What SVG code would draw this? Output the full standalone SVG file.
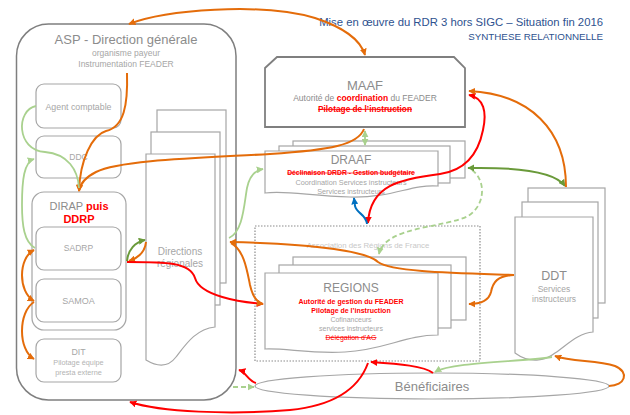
<svg xmlns="http://www.w3.org/2000/svg" width="630" height="415" viewBox="0 0 630 415">
<defs>
<style>
text{font-family:"Liberation Sans",Arial,sans-serif;fill:#8c8c8c;text-anchor:middle}
.box{fill:#fff;stroke:#a6a6a6;stroke-width:1.2}
.lt{fill:#a6a6a6}
.red{fill:#ff0000}
.b{font-weight:bold}
.st{text-decoration:line-through}
.c{fill:none;stroke-width:2}
.o{stroke:#e46c0a}
.r{stroke:#ff0000}
.lg{stroke:#a9d18e;stroke-width:1.8}
.dg{stroke:#6a9a3a}
.bl{stroke:#0070c0}
.d{stroke-dasharray:5 3}
</style>
<marker id="mo" viewBox="0 0 10 10" refX="9" refY="5" markerWidth="7" markerHeight="7" markerUnits="userSpaceOnUse" orient="auto-start-reverse"><path d="M0,0L10,5L0,10z" fill="#e46c0a"/></marker>
<marker id="mr" viewBox="0 0 10 10" refX="9" refY="5" markerWidth="7" markerHeight="7" markerUnits="userSpaceOnUse" orient="auto-start-reverse"><path d="M0,0L10,5L0,10z" fill="#ff0000"/></marker>
<marker id="mlg" viewBox="0 0 10 10" refX="9" refY="5" markerWidth="7" markerHeight="7" markerUnits="userSpaceOnUse" orient="auto-start-reverse"><path d="M0,0L10,5L0,10z" fill="#a9d18e"/></marker>
<marker id="mdg" viewBox="0 0 10 10" refX="9" refY="5" markerWidth="7" markerHeight="7" markerUnits="userSpaceOnUse" orient="auto-start-reverse"><path d="M0,0L10,5L0,10z" fill="#6a9a3a"/></marker>
<marker id="mb" viewBox="0 0 10 10" refX="9" refY="5" markerWidth="7" markerHeight="7" markerUnits="userSpaceOnUse" orient="auto-start-reverse"><path d="M0,0L10,5L0,10z" fill="#0070c0"/></marker>
</defs>
<rect width="630" height="415" fill="#fff"/>

<g id="title">
<text x="603" y="26" style="text-anchor:end;fill:#2e528f;font-size:11.3px">Mise en œuvre du RDR 3 hors SIGC – Situation fin 2016</text>
<text x="603" y="40" style="text-anchor:end;fill:#2e528f;font-size:9.8px">SYNTHESE RELATIONNELLE</text>
</g>

<g id="asp">
<rect x="16.5" y="24" width="219.5" height="376" rx="32" fill="#fff" stroke="#7f7f7f" stroke-width="1.5"/>
<text x="126" y="44" style="font-size:13px">ASP - Direction générale</text>
<text x="126" y="56" class="lt" style="font-size:8.5px">organisme payeur</text>
<text x="126" y="67" class="lt" style="font-size:8.5px">Instrumentation FEADER</text>
</g>

<g id="agent-comptable">
<rect class="box" x="36" y="84" width="85" height="44" rx="8"/>
<text x="78.5" y="110" class="lt" style="font-size:8.8px">Agent comptable</text>
</g>

<g id="ddc">
<rect class="box" x="36" y="136" width="85" height="42" rx="8"/>
<text x="78.5" y="160" class="lt" style="font-size:8.5px">DDC</text>
</g>

<g id="dirap">
<rect class="box" x="32" y="192" width="94" height="138" rx="12"/>
<text x="79" y="210" style="font-size:11px">DIRAP <tspan class="red b">puis</tspan></text>
<text x="79" y="223" class="red b" style="font-size:11px">DDRP</text>
</g>

<g id="sadrp">
<rect class="box" x="36" y="227" width="85" height="43" rx="8"/>
<text x="78.5" y="251" class="lt" style="font-size:8.5px">SADRP</text>
</g>

<g id="samoa">
<rect class="box" x="36" y="279" width="85" height="43" rx="8"/>
<text x="78.5" y="304" class="lt" style="font-size:9px">SAMOA</text>
</g>

<g id="dit">
<rect class="box" x="36" y="339" width="85" height="43" rx="8"/>
<text x="78.5" y="355" class="lt" style="font-size:8.8px">DIT</text>
<text x="78.5" y="365" style="font-size:7.3px;fill:#b3b3b3">Pilotage équipe</text>
<text x="78.5" y="375" style="font-size:7.3px;fill:#b3b3b3">presta externe</text>
</g>

<g id="directions-regionales">
<rect class="box" x="157" y="110" width="69" height="173"/>
<rect class="box" x="151" y="132" width="69" height="173"/>
<path class="box" d="M146,154H215V327C196,329 186,344 176,357C170,365 161,369 146,360Z"/>
<text x="180" y="255" class="lt" style="font-size:10px">Directions</text>
<text x="180" y="267" class="lt" style="font-size:10px">régionales</text>
</g>

<g id="maaf">
<path d="M277,57H454L465,68V127H265V68Z" fill="#fff" stroke="#7f7f7f" stroke-width="1.8"/>
<text x="365" y="90" style="font-size:13px">MAAF</text>
<text x="365" y="101" style="font-size:8.5px">Autorité de <tspan class="red b">coordination</tspan> du FEADER</text>
<text x="365" y="112" class="red b st" style="font-size:8.3px">Pilotage de l’instruction</text>
</g>

<g id="draaf">
<rect class="box" x="293" y="141" width="172" height="37"/>
<rect class="box" x="279" y="146" width="171" height="37"/>
<path class="box" d="M265,151H438V186C410,184 394,198 350,197C310,196 286,190 265,193Z"/>
<text x="351" y="164" style="font-size:12px">DRAAF</text>
<text x="351" y="175" class="red b st" style="font-size:6.8px">Déclinaison DRDR - Gestion budgétaire</text>
<text x="351" y="185" class="lt" style="font-size:7.3px">Coordination Services instructeurs</text>
<text x="351" y="194" class="lt" style="font-size:7.3px">Services instructeurs</text>
</g>

<g id="arf">
<rect x="255" y="226" width="225" height="135" fill="none" stroke="#8c8c8c" stroke-width="1.2" stroke-dasharray="1.5 1.5"/>
<text x="368" y="248" style="font-size:7.8px;fill:#c8c8c8">Association des Régions de France</text>
</g>

<g id="regions">
<rect class="box" x="293" y="257" width="173" height="63"/>
<rect class="box" x="279" y="265" width="172" height="63"/>
<path class="box" d="M265,273H438V335C405,335 385,350 345,352C310,354 286,348 265,349Z"/>
<text x="351" y="292" style="font-size:12px">REGIONS</text>
<text x="351" y="303.5" class="red b" style="font-size:7px">Autorité de gestion du FEADER</text>
<text x="351" y="312.5" class="red b" style="font-size:7px">Pilotage de l’instruction</text>
<text x="351" y="321.5" class="lt" style="font-size:7px">Cofinanceurs</text>
<text x="351" y="330.5" class="lt" style="font-size:7px">services instructeurs</text>
<text x="351" y="339.5" class="red st" style="font-size:7px">Délégation d’AG</text>
</g>

<g id="ddt">
<rect class="box" x="528" y="188" width="77" height="115"/>
<rect class="box" x="522" y="202" width="76" height="116"/>
<path class="box" d="M515,217H593V332C578,333 567,345 555,353C545,361 530,364 515,353Z"/>
<text x="554" y="280" style="font-size:12.5px">DDT</text>
<text x="554" y="292" class="lt" style="font-size:8.5px">Services</text>
<text x="554" y="302" class="lt" style="font-size:8.5px">instructeurs</text>
</g>

<g id="beneficiaires">
<ellipse cx="432" cy="386" rx="177" ry="13" fill="#fff" stroke="#a6a6a6" stroke-width="1.2"/>
<text x="432" y="391" style="font-size:13px">Bénéficiaires</text>
</g>

<g id="connectors">
<path class="c o" d="M129,24C165,10 260,2 315,18C342,27 360,38 365,55" marker-start="url(#mo)" marker-end="url(#mo)"/>
<path class="c o" d="M127,73C128,105 124,127 106,131C92,135 80,160 79,191" marker-end="url(#mo)"/>
<path class="c o" d="M364,129C358,145 330,150 270,154C200,158 120,160 96,172C86,177 80,184 79,191" marker-end="url(#mo)"/>
<path class="c lg" d="M36,106C16,110 16,150 45,152C68,154 78,170 79,188"/>
<path class="c lg" d="M35,248C24,242 22,225 22,205C22,180 24,162 34,159" marker-end="url(#mlg)"/>
<path class="c o" d="M34,301C18,292 18,258 34,250" marker-start="url(#mo)" marker-end="url(#mo)"/>
<path class="c o" d="M34,302C18,312 18,350 34,359" marker-end="url(#mo)"/>
<path class="c dg" d="M127,261C128,250 135,242 145,240" marker-end="url(#mdg)"/>
<path class="c o" d="M146,242C145,252 138,258 129,261" marker-end="url(#mo)"/>
<path class="c r" d="M127,262C165,262 190,262 195,278C200,296 240,302 263,304" marker-end="url(#mr)"/>
<path class="c lg" d="M229,238C243,232 244,205 247,188C250,174 256,170 263,169" marker-end="url(#mlg)"/>
<path class="c o" d="M514,275C455,273 392,272 378,262C368,252 320,244 230,242" marker-end="url(#mo)"/>
<path class="c o" d="M514,275C497,276 493,282 491,292C489,300 482,304 469,304" marker-end="url(#mo)"/>
<path class="c o" d="M231,243C244,250 247,270 250,285C253,298 258,303 263,304" marker-end="url(#mo)"/>
<path class="c lg" d="M365,131L365,145" marker-start="url(#mlg)" marker-end="url(#mlg)"/>
<path class="c r" d="M469,95C484,98 487,112 483,130C479,150 468,170 440,174C400,179 370,185 368,223" marker-start="url(#mr)" marker-end="url(#mr)"/>
<path class="c bl" d="M367,224C366,214 357,214 355,206L354,198" marker-end="url(#mb)"/>
<path class="c lg d" d="M472,170C486,180 486,205 468,216C445,228 385,226 379,254" marker-end="url(#mlg)"/>
<path class="c dg" d="M468,168C520,167 555,172 565,186" marker-start="url(#mdg)" marker-end="url(#mdg)"/>
<path class="c o" d="M566,187C566,130 530,94 469,91" marker-end="url(#mo)"/>
<path class="c lg" d="M552,357C520,362 452,362 435,372" marker-end="url(#mlg)"/>
<path class="c o" d="M609,386C625,386 630,372 615,366C597,360 572,362 555,356" marker-end="url(#mo)"/>
<path class="c r" d="M433,373C424,366 400,364 371,362" marker-end="url(#mr)"/>
<path class="c r" d="M368,363C360,385 340,405 290,410C230,415 160,412 130,402" marker-end="url(#mr)"/>
<path class="c r" d="M256,383C248,381 246,372 239,370" marker-end="url(#mr)"/>
<path class="c lg d" d="M233,387L254,387" marker-end="url(#mlg)"/>
</g>
</svg>
